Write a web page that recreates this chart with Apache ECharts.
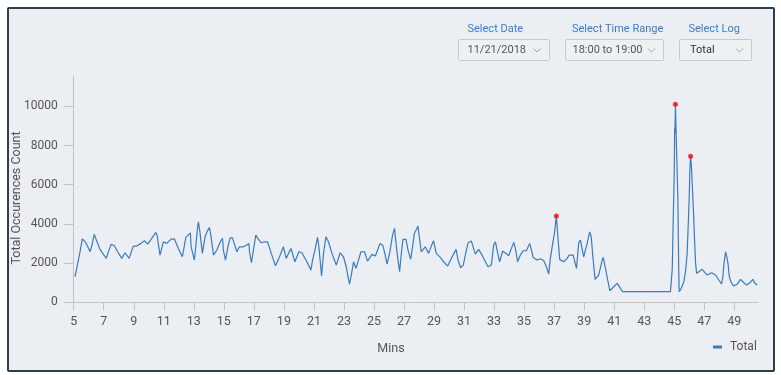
<!DOCTYPE html>
<html>
<head>
<meta charset="utf-8">
<script src="https://cdn.jsdelivr.net/npm/echarts@6/dist/echarts.min.js"></script>
<style>
html,body{margin:0;padding:0;background:#ffffff;}
#frame{position:absolute;left:7px;top:7px;width:764px;height:361px;border:2px solid #2f3e4e;border-radius:2px;background:#ebeff3;}
#c{position:absolute;left:0;top:0;width:781px;height:375px;}
</style>
</head>
<body>
<div id="frame"></div>
<div id="c"></div>
<script>
// ---- data ----
const mins = [
  5.09,5.27,5.42,5.57,5.71,5.87,6.09,6.20,6.37,6.53,6.75,6.97,7.17,7.35,7.49,7.71,7.93,8.20,8.42,8.69,
  8.97,9.20,9.49,9.71,9.93,10.20,10.47,10.55,10.75,10.97,11.20,11.49,11.71,11.97,12.24,12.47,12.77,12.82,13.04,13.27,
  13.31,13.42,13.57,13.75,13.91,14.04,14.15,14.31,14.53,14.80,14.91,14.97,15.11,15.27,15.42,15.57,15.73,15.87,16.04,16.31,
  16.53,16.67,16.71,16.84,16.97,17.13,17.31,17.49,17.69,17.91,18.09,18.27,18.44,18.64,18.84,18.97,19.15,19.29,19.47,19.73,
  20.00,20.20,20.53,20.80,20.91,21.04,21.24,21.33,21.51,21.64,21.80,21.97,22.20,22.49,22.75,22.97,23.15,23.27,23.37,23.49,
  23.64,23.80,23.97,24.13,24.37,24.57,24.87,25.09,25.24,25.40,25.60,25.75,25.87,26.04,26.24,26.37,26.47,26.60,26.71,26.80,
  26.93,27.13,27.27,27.44,27.57,27.69,27.86,27.93,28.02,28.15,28.42,28.64,28.82,28.97,29.15,29.42,29.64,29.91,30.15,30.47,
  30.60,30.77,30.95,31.13,31.27,31.49,31.60,31.75,31.97,32.20,32.42,32.60,32.82,32.97,33.09,33.20,33.37,33.57,33.80,33.97,
  34.13,34.31,34.42,34.57,34.75,34.93,35.15,35.37,35.49,35.60,35.87,36.09,36.31,36.49,36.64,36.75,36.87,37.02,37.15,37.25,
  37.37,37.64,37.87,38.00,38.27,38.35,38.49,38.64,38.75,38.97,39.20,39.37,39.47,39.60,39.73,39.97,40.20,40.27,40.42,40.57,
  40.71,40.97,41.20,41.42,41.55,44.75,44.87,44.93,45.00,45.03,45.05,45.08,45.13,45.24,45.29,45.33,45.47,45.64,45.75,45.86,
  45.93,46.00,46.04,46.09,46.15,46.22,46.29,46.35,46.42,46.49,46.64,46.86,47.20,47.49,47.75,47.97,48.15,48.24,48.31,48.42,
  48.49,48.58,48.67,48.80,48.97,49.20,49.42,49.64,49.82,50.04,50.24,50.37,50.53
];
const counts = [
  1304,1987,2578,3225,3140,2955,2578,2868,3464,3140,2700,2460,2240,2664,2955,2883,2578,2240,2527,2240,
  2868,2868,3006,3140,2970,3260,3566,3428,2410,3087,3006,3225,3225,2750,2323,3311,3546,2832,2155,3938,
  4100,3515,2496,3342,3648,3820,3342,2410,2664,3140,3260,2664,2155,2832,3290,3290,2920,2578,2832,2832,
  2920,3006,2578,2017,2664,3428,3210,3036,3087,3087,2664,2240,1865,2190,2578,2832,2240,2460,2750,2068,
  2578,2527,2068,1645,2155,2578,3311,2832,1340,2496,3342,3087,2496,1900,2527,2323,1814,1304,932,1391,
  2068,1732,2155,2578,2578,2104,2445,2359,2664,3006,2883,2410,1951,2496,3428,3770,3006,2155,1559,2323,
  3210,3210,2664,2190,2832,3515,3770,3887,3342,2578,2832,2496,2868,3140,2496,2292,2068,1849,2240,2700,
  2155,1763,1900,2578,3036,3123,3174,2460,2700,2410,2068,1814,1900,2920,3087,2664,2068,2613,2496,2374,
  2700,3057,2750,2068,2410,2629,2629,3006,2664,2292,2155,2221,2119,1814,1442,2240,2832,3515,4400,3342,
  2190,2068,2240,2410,2410,2155,1732,3036,3174,2323,3006,3597,3342,2155,1172,1391,2155,2292,1732,1136,
  591,795,968,713,540,540,1732,4106,6520,8915,8610,10100,8523,5380,2155,540,713,1050,1559,2496,
  3887,5349,6740,7450,6877,5634,4498,3260,2017,1477,1559,1681,1391,1508,1391,1136,932,1304,1951,2578,
  2359,1987,1304,998,830,932,1172,998,881,998,1172,968,881
];
const anomalyMins = [37.15, 45.08, 46.09];
const anomalyCounts = [4400, 10100, 7450];
const xTickLabels = [5,7,9,11,13,15,17,19,21,23,25,27,29,31,33,35,37,39,41,43,45,47,49];
const yTickLabels = [0,2000,4000,6000,8000,10000];
const seriesName = 'Total';
const xAxisName = 'Mins';
const yAxisName = 'Total Occurences Count';
const selectLabels = ['Select Date', 'Select Time Range', 'Select Log'];
const selectValues = ['11/21/2018', '18:00 to 19:00', 'Total'];

// ---- layout ----
const FONT = 'Roboto, "Open Sans", sans-serif';
const boxes = [
  {x: 458.5, w: 91, chev: 537, lx: 467.5, vx: 467.5},
  {x: 565.5, w: 98, chev: 651.5, lx: 572, vx: 572.5},
  {x: 679.5, w: 72, chev: 739.5, lx: 688.5, vx: 690}
];
const graphics = [];
boxes.forEach((b, i) => {
  graphics.push({type:'text', x: b.lx, y: 29.5, style:{text: selectLabels[i], fill:'#3d7cc4', font:'11px ' + FONT, verticalAlign:'middle'}});
  graphics.push({type:'rect', shape:{x: b.x, y: 39.5, width: b.w, height: 21, r: 1}, style:{fill:'#eef1f4', stroke:'#c6cacf', lineWidth:1}});
  graphics.push({type:'text', x: b.vx, y: 50.5, style:{text: selectValues[i], fill: i === 2 ? '#333' : '#555', font:'11px ' + FONT, verticalAlign:'middle'}});
  graphics.push({type:'polyline', shape:{points:[[b.chev-3.5,48.5],[b.chev,52],[b.chev+3.5,48.5]]}, style:{stroke:'#a0a4a8', lineWidth:1, fill:null}});
});
graphics.push({type:'text', x: 391, y: 349, style:{text: xAxisName, fill:'#555', font:'12.5px ' + FONT, align:'center', verticalAlign:'middle'}});
graphics.push({type:'text', x: 17, y: 198, rotation: Math.PI/2, style:{text: yAxisName, fill:'#555', font:'12.5px ' + FONT, align:'center', verticalAlign:'middle'}});

const chart = echarts.init(document.getElementById('c'), null, {renderer:'canvas'});
chart.setOption({
  backgroundColor: 'transparent',
  animation: false,
  textStyle: {fontFamily: FONT},
  grid: {left: 73.7, right: 23, top: 76, bottom: 72.7, containLabel: false, outerBoundsMode: 'none'},
  legend: {
    data: [{name: seriesName, icon: 'rect'}],
    left: 713, top: 341, padding: 0,
    itemWidth: 9, itemHeight: 3,
    textStyle: {color:'#555', fontSize: 12, fontFamily: FONT, padding:[0,0,0,3]}
  },
  xAxis: {
    type: 'value', min: 5, max: 50.58,
    axisLine: {show: true, lineStyle: {color:'#c2c2c2', width: 1}},
    axisTick: {show: true, length: 8, lineStyle: {color:'#c2c2c2'}, customValues: xTickLabels},
    axisLabel: {customValues: xTickLabels, color:'#555', fontSize: 12.5, margin: 13, fontFamily: FONT, formatter: v => String(v)},
    splitLine: {show: false}
  },
  yAxis: {
    type: 'value', min: 0, max: 11546,
    axisLine: {show: true, lineStyle: {color:'#c2c2c2', width: 1}},
    axisTick: {show: true, length: 10, lineStyle: {color:'#c2c2c2'}, customValues: yTickLabels},
    axisLabel: {customValues: yTickLabels, color:'#555', fontSize: 12, margin: 16, fontFamily: FONT, formatter: v => String(v)},
    splitLine: {show: false}
  },
  graphic: {elements: graphics},
  series: [
    {
      name: seriesName, type: 'line',
      data: mins.map((m, i) => [m, counts[i]]),
      showSymbol: false, symbol: 'none',
      lineStyle: {color:'#3a7bbf', width: 1.2},
      itemStyle: {color:'#3a7bbf'},
      z: 2
    },
    {
      name: 'anomalies', type: 'scatter',
      data: anomalyMins.map((m, i) => [m, anomalyCounts[i]]),
      symbol: 'circle', symbolSize: 5,
      itemStyle: {color:'#ff0000'},
      z: 3
    }
  ]
});
</script>
</body>
</html>
